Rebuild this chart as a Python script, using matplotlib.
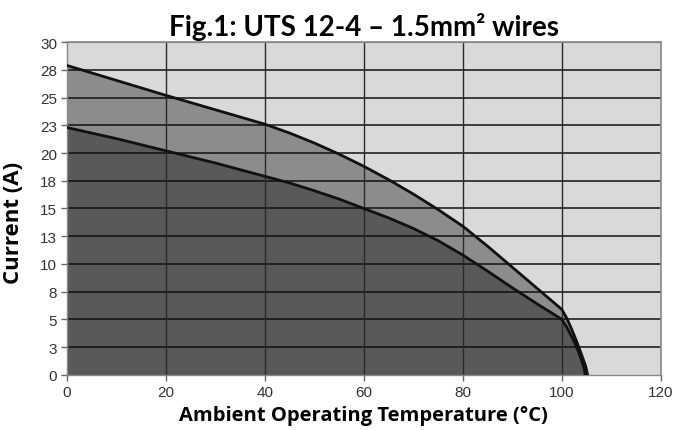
import matplotlib.pyplot as plt
import matplotlib.ticker as mticker

# derating curves
upper_temp = [0, 10, 20, 30, 40, 45, 50, 55, 60, 65, 70, 75, 80, 85, 90, 95, 100, 101, 102, 103, 104, 104.8, 105.2]
upper_amps = [27.9, 26.55, 25.2, 23.9, 22.6, 21.8, 20.9, 19.9, 18.8, 17.6, 16.3, 14.9, 13.4, 11.6, 9.7, 7.8, 5.9, 5.1, 4.1, 3.0, 1.8, 0.8, 0.0]
lower_temp = [0, 10, 20, 30, 40, 45, 50, 55, 60, 65, 70, 75, 80, 85, 90, 95, 100, 101, 102, 103, 104, 104.5, 104.7]
lower_amps = [22.3, 21.3, 20.2, 19.1, 17.9, 17.3, 16.6, 15.85, 15.0, 14.15, 13.2, 12.1, 10.8, 9.35, 7.85, 6.4, 5.0, 4.3, 3.45, 2.5, 1.3, 0.6, 0.0]

x_ticks = [0, 20, 40, 60, 80, 100, 120]
y_ticks = [0, 2.5, 5, 7.5, 10, 12.5, 15, 17.5, 20, 22.5, 25, 27.5, 30]

fig = plt.figure(figsize=(6.75, 4.31), dpi=100)
ax = fig.add_axes([0.099, 0.128, 0.880, 0.772])
ax.set_facecolor('#d9d9d9')

ax.fill_between(upper_temp, upper_amps, 0, color='#8c8c8c', zorder=1)
ax.fill_between(lower_temp, lower_amps, 0, color='#595959', zorder=1.5)

for yv in y_ticks[1:-1]:
    ax.axhline(yv, color='#111111', lw=1.1, zorder=2)
for xv in x_ticks[1:-1]:
    ax.axvline(xv, color='#2a2a2a', lw=1.0, zorder=2)
ax.axhline(30, color='#777777', lw=1.5, zorder=2)

ax.plot(upper_temp, upper_amps, color='#111111', lw=2.0, zorder=3)
ax.plot(lower_temp, lower_amps, color='#111111', lw=2.0, zorder=3)

ax.set_xlim(0, 120)
ax.set_ylim(0, 30)
ax.set_xticks(x_ticks)
ax.set_yticks(y_ticks)
ax.yaxis.set_major_formatter(mticker.FuncFormatter(lambda v, p: '%d' % int(v + 0.5)))

for s in ['top', 'right']:
    ax.spines[s].set_color('#888888')
    ax.spines[s].set_linewidth(1.2)
for s in ['left', 'bottom']:
    ax.spines[s].set_color('#888888')
    ax.spines[s].set_linewidth(1.0)
ax.tick_params(length=4, width=1, color='#666666', labelsize=11, labelcolor='#333333', pad=3)
for lbl in ax.get_xticklabels() + ax.get_yticklabels():
    lbl.set_family('Liberation Sans')

ax.set_title('Fig.1: UTS 12-4 \u2013 1.5mm\u00b2 wires', fontsize=20, fontweight='bold',
             family='Lato', pad=5)
ax.set_xlabel('Ambient Operating Temperature (\u00b0C)', fontsize=14.5, fontweight='bold',
              family='Open Sans', labelpad=5)
ax.set_ylabel('Current (A)', fontsize=16, fontweight='bold', family='Open Sans')
ax.yaxis.set_label_coords(-0.072, 0.46)

fig.savefig('out.png', dpi=100)
